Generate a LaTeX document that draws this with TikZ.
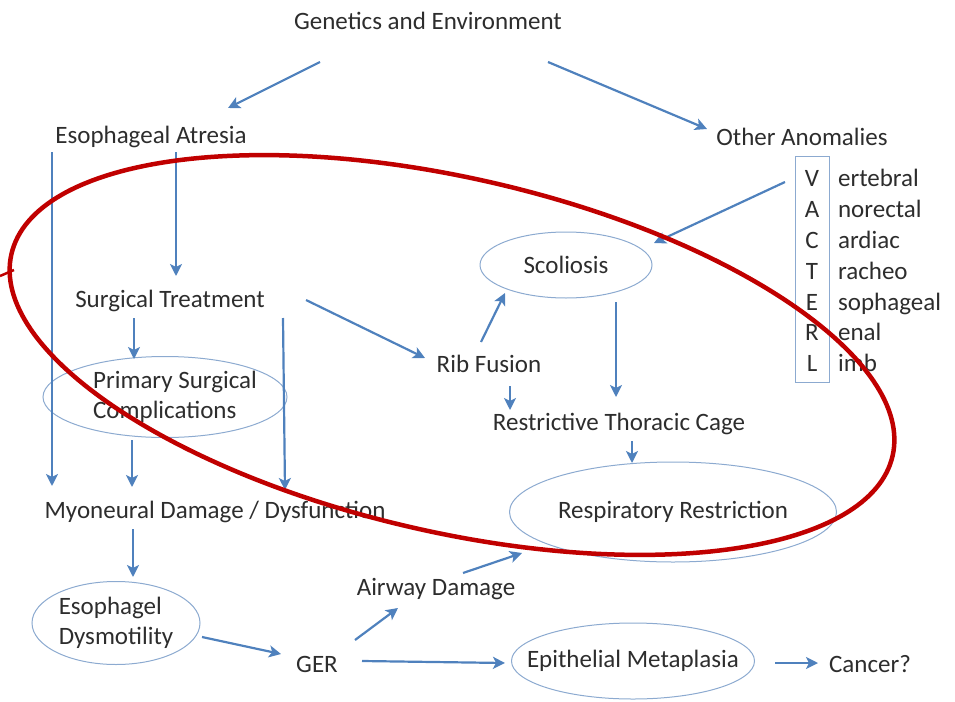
\documentclass[tikz,border=0pt]{standalone}
\usepackage{fontspec}
\setmainfont{Carlito}
\usetikzlibrary{positioning,shapes.geometric,arrows.meta}
\definecolor{arrowblue}{RGB}{79,129,189}
\definecolor{rimblue}{RGB}{140,170,208}
\definecolor{redring}{RGB}{192,0,0}
\definecolor{txtgray}{RGB}{45,45,45}

\begin{document}
\begin{tikzpicture}[x=1pt, y=-1pt, -{Stealth[length=12pt,width=12pt,inset=3pt]}, on grid, line width=2.2pt,
every edge/.append style={arrowblue},
txt/.style={font=\fontsize{25}{30}\selectfont, text=txtgray, inner sep=2pt},
blob/.style={txt, ellipse, draw=rimblue, line width=1pt, inner sep=0pt, align=left},
ring/.style={draw=redring, line width=4.5pt, -}]
\useasboundingbox (0,0) rectangle (955,701);

\node[txt] (Genetics) at (428,21) {Genetics and Environment};
\node[txt] (Atresia) [below left=116pt and 277pt of Genetics] {Esophageal Atresia};
\node[txt] (OtherAnom) [below right=116pt and 374pt of Genetics] {Other Anomalies};
\node[txt] (Surgical) [below right=164pt and 19pt of Atresia] {Surgical Treatment};
\node[blob, inner xsep=-7pt, minimum width=244pt, minimum height=81pt] (Primary) [below left=96pt and 5pt of Surgical] {\hspace*{20pt}Primary Surgical\\\hspace*{20pt}Complications};
\node[txt] (Myoneural) [below right=115pt and 50pt of Primary] {Myoneural Damage / Dysfunction};
\node[blob, minimum width=168pt, minimum height=83pt] (Dysmotility) [below left=111pt and 99pt of Myoneural] {Esophagel\\Dysmotility};
\node[txt] (GER) [below right=41pt and 201pt of Dysmotility] {GER};
\node[txt] (Airway) [above right=75pt and 119pt of GER] {Airway Damage};
\node[blob, inner xsep=-21pt, minimum width=243pt, minimum height=76pt] (Metaplasia) [above right=3pt and 316pt of GER] {Epithelial Metaplasia};
\node[txt] (Cancer) [below right=3pt and 237pt of Metaplasia] {Cancer?};
\node[blob, minimum width=327pt, minimum height=100pt] (RespRestr) [above right=149pt and 40pt of Metaplasia] {Respiratory Restriction};
\node[txt] (Thoracic) [above left=88pt and 54pt of RespRestr] {Restrictive Thoracic Cage};
\node[txt] (RibFusion) [above left=60pt and 130pt of Thoracic] {Rib Fusion};
\node[blob, minimum width=172pt, minimum height=66pt] (Scoliosis) [above right=99pt and 77pt of RibFusion] {Scoliosis};
\node[draw=rimblue, line width=1pt, minimum width=34pt, minimum height=226pt] (Vacterl) [below right=132pt and 10pt of OtherAnom] {};

% VACTERL letters
\foreach \ltr/\rest [count=\i] in {V/ertebral, A/norectal, C/ardiac, T/racheo, E/sophageal, R/enal, L/imb}
{
\node[txt, anchor=base] (Letter\i) at (812, 156.1+30.8*\i) {\ltr};
\node[txt, anchor=base west] (Rest\i) at (835, 156.1+30.8*\i) {\rest};
}

\path ([shift={(-108,41)}]Genetics.center) edge ([shift={(77,-29)}]Atresia.center);
\path ([shift={(120,41)}]Genetics.center) edge ([shift={(-95,-8)}]OtherAnom.center);
\path ([shift={(-99,15)}]Atresia.center) edge ([shift={(-163,-26)}]Myoneural.center);
\path ([shift={(25,15)}]Atresia.center) edge ([shift={(6,-25)}]Surgical.center);
\path ([shift={(-36,17)}]Surgical.center) edge ([shift={(-31,-38)}]Primary.center);
\path ([shift={(113,17)}]Surgical.center) edge ([shift={(70,-22)}]Myoneural.center);
\path ([shift={(-33,43)}]Primary.center) edge ([shift={(-83,-25)}]Myoneural.center);
\path ([shift={(136,-1)}]Surgical.center) edge ([shift={(-64,-6)}]RibFusion.center);
\path ([shift={(-8,-22)}]RibFusion.center) edge ([shift={(-61,28)}]Scoliosis.center);
\path ([shift={(21,22)}]RibFusion.center) edge ([shift={(-109,-14)}]Thoracic.center);
\path ([shift={(-27,-87)}]Vacterl.center) edge ([shift={(88,-22)}]Scoliosis.center);
\path ([shift={(50,37)}]Scoliosis.center) edge ([shift={(-3,-27)}]Thoracic.center);
\path ([shift={(13,17)}]Thoracic.center) edge ([shift={(-41,-49)}]RespRestr.center);
\path ([shift={(-82,17)}]Myoneural.center) edge ([shift={(17,-46)}]Dysmotility.center);
\path ([shift={(86,14)}]Dysmotility.center) edge ([shift={(-36,-10)}]GER.center);
\path ([shift={(38,-24)}]GER.center) edge ([shift={(-38,19)}]Airway.center);
\path ([shift={(27,-16)}]Airway.center) edge ([shift={(-151,41)}]RespRestr.center);
\path ([shift={(45,-3)}]GER.center) edge ([shift={(-128,2)}]Metaplasia.center);
\path ([shift={(142,2)}]Metaplasia.center) edge ([shift={(-52,-1)}]Cancer.center);

% red ring on top
\draw[ring, rotate around={-12.9:(452,355)}] (452,355) ellipse [x radius=452, y radius=177];
\draw[ring, line width=2.5pt] (0,276) -- (14,270);
\end{tikzpicture}
\end{document}
